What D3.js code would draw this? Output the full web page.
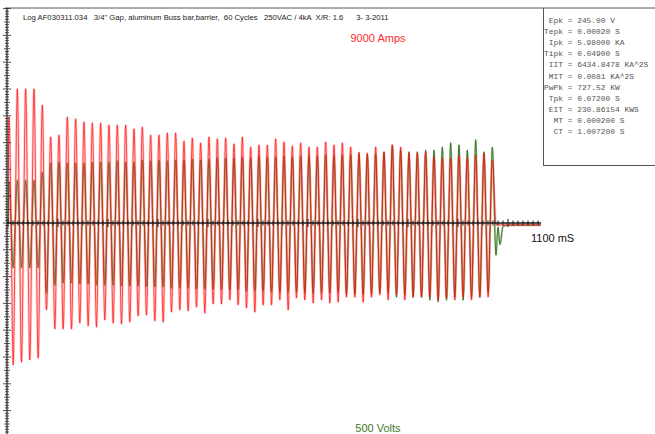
<!DOCTYPE html>
<html><head><meta charset="utf-8">
<script src="https://cdn.jsdelivr.net/npm/d3@7"></script>
<style>
html,body{margin:0;padding:0;background:#fff;}
svg{display:block;}
text{white-space:pre;}
</style></head>
<body>
<svg id="c" width="655" height="434"></svg>
<script>
// ---------- DATA ----------
const titleText = "Log AF030311.034   3/4\" Gap, aluminum Buss bar,barrier,  60 Cycles   250VAC / 4kA  X/R: 1.6      3- 3-2011";
const currentLabel = "9000 Amps";
const voltageLabel = "500 Volts";
const timeLabel = "1100 mS";
const currentFullScaleKA = 9;      // 9000 Amps
const voltageFullScaleV = 500;     // 500 Volts
const timeFullScaleMs = 1100;      // 1100 mS
const lineFrequencyHz = 60;
const firstPeakMs = 2;

const statLabels = ["Epk","Tepk","Ipk","Tipk","IIT","MIT","PwPk","Tpk","EIT","MT","CT"];
const statValues = ["245.00 V","0.00020 S","5.98000 KA","0.04900 S","6434.8478 KA^2S","0.0081 KA^2S","727.52 KW","0.07200 S","230.86154 KWS","0.000200 S","1.007200 S"];

// current half-cycle peaks (kA): positive peaks, then negative peaks in between
const currentPositive = [
 4.45,5.63,5.63,5.63,4.95,3.61,3.69,4.45,4.37,4.24,
 4.20,4.20,4.11,4.11,4.11,3.95,4.03,3.69,3.69,3.78,
 3.78,3.44,3.57,3.36,3.61,3.53,3.57,3.32,3.61,3.19,
 3.27,3.27,3.53,3.40,3.23,3.36,3.19,3.19,3.40,3.27,
 3.36,3.19,2.98,2.94,3.19,2.98,3.27,3.19,2.94,2.94,
 2.98,2.77,2.73,2.73,2.85,2.73,2.85,2.94,2.65];
const currentNegative = [
 -5.96,-5.84,-5.75,-5.67,-3.65,-4.45,-4.45,-4.45,-4.20,-4.32,
 -4.37,-4.07,-4.20,-4.24,-4.16,-3.90,-3.86,-4.11,-4.16,-3.74,
 -3.65,-3.69,-3.53,-3.78,-3.40,-3.40,-3.23,-3.44,-3.57,-3.74,
 -3.44,-3.44,-3.23,-3.65,-3.15,-3.23,-3.36,-3.23,-3.36,-3.32,
 -3.11,-3.11,-3.32,-3.11,-3.02,-3.23,-3.02,-3.23,-3.11,-3.11,
 -3.11,-3.23,-3.15,-3.23,-3.11,-3.23,-3.11,-3.11];
const currentTailMs = [976, 1100];
const currentTail = [-0.08, -0.08];

// voltage half-cycle peaks (V)
const voltagePositive = [
 96,100,100,100,119,140,142,140,140,140,
 142,142,142,145,142,142,147,145,147,145,
 147,147,149,147,149,152,152,152,154,152,
 156,154,154,156,154,156,156,156,159,156,
 159,159,161,159,161,166,182,170,166,166,
 170,170,177,187,182,170,194,166,177];
const voltageNegative = [
 -105,-105,-105,-105,-163,-145,-140,-140,-142,-142,
 -145,-145,-145,-147,-147,-147,-149,-149,-149,-152,
 -152,-152,-154,-154,-154,-156,-156,-156,-159,-159,
 -159,-161,-161,-161,-161,-163,-163,-163,-163,-163,
 -166,-166,-166,-166,-163,-163,-173,-168,-173,-173,
 -180,-184,-180,-173,-180,-173,-173,-163];
const voltageTailMs = [976, 980, 984, 990, 1000, 1100];
const voltageTail = [-75, -10, -50, -8, -5, -5];

// ---------- BUILD SERIES ----------
const halfPeriodMs = 1000 / lineFrequencyHz / 2;
function buildSeries(pos, neg, tailMs, tail) {
  const pts = [{t: 0, v: 0}];
  const peaks = [];
  for (let i = 0; i < pos.length; i++) {
    peaks.push({t: firstPeakMs + 2 * i * halfPeriodMs, v: pos[i]});
    if (i < neg.length) peaks.push({t: firstPeakMs + (2 * i + 1) * halfPeriodMs, v: neg[i]});
  }
  peaks.forEach((p, i) => {
    pts.push(p);
    if (i < peaks.length - 1) pts.push({t: (p.t + peaks[i + 1].t) / 2, v: 0});
  });
  tailMs.forEach((t, i) => pts.push({t: t, v: tail[i]}));
  return pts;
}
const currentSeries = buildSeries(currentPositive, currentNegative, currentTailMs, currentTail);
const voltageSeries = buildSeries(voltagePositive, voltageNegative, voltageTailMs, voltageTail);

// ---------- LAYOUT ----------
const svg = d3.select("#c");
const zeroY = 223, divPx = 26.8, nDiv = 8;
const x0 = 8, xEnd = 541;
const x = d3.scaleLinear().domain([0, timeFullScaleMs]).range([x0, x0 + 550]);
const yDiv = d3.scaleLinear().domain([-nDiv, nDiv]).range([zeroY + nDiv * divPx, zeroY - nDiv * divPx]);
const yI = d3.scaleLinear().domain([-currentFullScaleKA, currentFullScaleKA]).range(yDiv.range());
const yV = d3.scaleLinear().domain([-voltageFullScaleV, voltageFullScaleV]).range(yDiv.range());

svg.append("defs").append("clipPath").attr("id", "plot")
  .append("rect").attr("x", x0).attr("y", 0).attr("width", xEnd - x0).attr("height", 434);

// top border & stats box
svg.append("line").attr("x1", 5).attr("x2", 655).attr("y1", 8).attr("y2", 8)
  .attr("stroke", "#555").attr("stroke-width", 1);
svg.append("line").attr("x1", 543.5).attr("x2", 543.5).attr("y1", 8).attr("y2", 166)
  .attr("stroke", "#555").attr("stroke-width", 1);
svg.append("line").attr("x1", 543).attr("x2", 655).attr("y1", 165.5).attr("y2", 165.5)
  .attr("stroke", "#555").attr("stroke-width", 1);

// title
svg.append("text").attr("x", 23).attr("y", 20)
  .attr("font-family", "Liberation Sans, Arial, sans-serif").attr("font-size", 7.7)
  .attr("fill", "#222").text(titleText);

// stats
const maxLab = d3.max(statLabels, d => d.length);
svg.append("g").selectAll("text").data(statLabels).join("text")
  .attr("x", 544).attr("y", (d, i) => 23 + i * 11.1)
  .attr("font-family", "Liberation Mono, DejaVu Sans Mono, monospace").attr("font-size", 7.9)
  .attr("fill", "#555")
  .text((d, i) => d.padStart(maxLab, " ") + " = " + statValues[i]);

// waveforms
const line = (ys) => d3.line().x(d => x(d.t)).y(d => ys(d.v)).curve(d3.curveMonotoneX);
const gW = svg.append("g").attr("clip-path", "url(#plot)");
gW.append("path").datum(voltageSeries).attr("d", line(yV))
  .attr("fill", "none").attr("stroke", "rgba(60,130,40,0.3)").attr("stroke-width", 2.2);
gW.append("path").datum(voltageSeries).attr("d", line(yV))
  .attr("fill", "none").attr("stroke", "#2a6a12").attr("stroke-width", 0.9);
gW.append("path").datum(currentSeries).attr("d", line(yI))
  .attr("fill", "none").attr("stroke", "rgba(255,110,110,0.32)").attr("stroke-width", 2.6);
gW.append("path").datum(currentSeries).attr("d", line(yI))
  .attr("fill", "none").attr("stroke", "#ff0000").attr("stroke-width", 0.85)
  .attr("stroke-opacity", 0.8);

// y axis (divisions)
const yAxisG = svg.append("g").attr("transform", "translate(7,0)");
yAxisG.append("line").attr("y1", 8).attr("y2", 434).attr("stroke", "#222").attr("stroke-width", 1.2);
const yTicks = d3.range(-nDiv * 10, nDiv * 10 + 1).map(k => k / 10);
yAxisG.selectAll("line.t").data(yTicks).join("line").attr("class", "t")
  .attr("x1", d => Math.abs(d % 1) < 1e-6 ? -4 : (Math.abs(d % 0.5) < 1e-6 ? -3 : -2))
  .attr("x2", d => Math.abs(d % 1) < 1e-6 ? 4 : (Math.abs(d % 0.5) < 1e-6 ? 3 : 2))
  .attr("y1", d => yDiv(d)).attr("y2", d => yDiv(d))
  .attr("stroke", "#222").attr("stroke-width", 0.8);

// time axis along zero
const xAxisG = svg.append("g");
xAxisG.append("line").attr("x1", 7).attr("x2", xEnd).attr("y1", zeroY).attr("y2", zeroY)
  .attr("stroke", "#1a1a1a").attr("stroke-width", 1.4);
const xTicks = d3.range(0, timeFullScaleMs + 1, 10).filter(t => x(t) <= xEnd);
xAxisG.selectAll("line.t").data(xTicks).join("line").attr("class", "t")
  .attr("x1", d => x(d)).attr("x2", d => x(d))
  .attr("y1", d => zeroY - (d % 100 === 0 ? 4 : 2.5)).attr("y2", d => zeroY + (d % 100 === 0 ? 4 : 2.5))
  .attr("stroke", "#1a1a1a").attr("stroke-width", 1);

// labels
svg.append("text").attr("x", 378).attr("y", 42).attr("text-anchor", "middle")
  .attr("font-family", "Liberation Sans, Arial, sans-serif").attr("font-size", 11)
  .attr("fill", "#ff2a2a").text(currentLabel);
svg.append("text").attr("x", 378).attr("y", 432).attr("text-anchor", "middle")
  .attr("font-family", "Liberation Sans, Arial, sans-serif").attr("font-size", 11)
  .attr("fill", "#3d7a1e").text(voltageLabel);
svg.append("text").attr("x", 531).attr("y", 242)
  .attr("font-family", "Liberation Sans, Arial, sans-serif").attr("font-size", 11)
  .attr("fill", "#111").text(timeLabel);
</script>
</body></html>
